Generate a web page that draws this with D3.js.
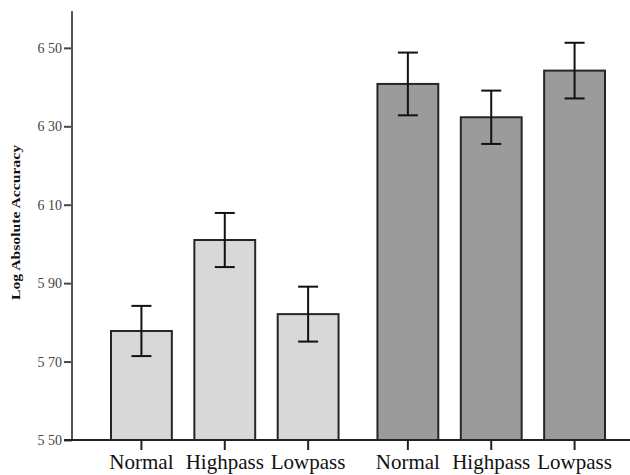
<!DOCTYPE html>
<html>
<head>
<meta charset="utf-8">
<script src="https://cdn.jsdelivr.net/npm/d3@7"></script>
<style>
html,body{margin:0;padding:0;background:#fff;}
svg{display:block;}
</style>
</head>
<body>
<svg id="chart" width="630" height="475"></svg>
<script>
// Data
const groups = ["Group A", "Group B"];
const conditions = ["Normal", "Highpass", "Lowpass"];
const valuesA = [5.778, 6.010, 5.821];
const valuesB = [6.408, 6.323, 6.442];
const errorsA = [0.064, 0.069, 0.070];
const errorsB = [0.080, 0.068, 0.071];
const yTickValues = [5.50, 5.70, 5.90, 6.10, 6.30, 6.50];
const yTickLabels = ["5 50", "5 70", "5 90", "6 10", "6 30", "6 50"];
const yLabel = "Log Absolute Accuracy";

const data = [];
groups.forEach((g, gi) => {
  const vals = gi === 0 ? valuesA : valuesB;
  const errs = gi === 0 ? errorsA : errorsB;
  conditions.forEach((c, ci) => data.push({group: g, cond: c, value: vals[ci], err: errs[ci]}));
});

const svg = d3.select("#chart");
const axisX = 72, baseY = 440, topY = 11;

const y = d3.scaleLinear().domain([5.5, 6.594]).range([baseY, topY]);
const x0 = d3.scaleBand().domain(groups).range([111, 605]).paddingInner(0.146).paddingOuter(0);
const x1 = d3.scaleBand().domain(conditions).range([0, x0.bandwidth()]).paddingInner(0.27).paddingOuter(0);
const fills = {"Group A": "#d8d8d8", "Group B": "#9b9b9b"};

// Bars
const bars = svg.append("g");
bars.selectAll("rect").data(data).join("rect")
  .attr("x", d => x0(d.group) + x1(d.cond))
  .attr("y", d => y(d.value))
  .attr("width", x1.bandwidth())
  .attr("height", d => baseY - y(d.value))
  .attr("fill", d => fills[d.group])
  .attr("stroke", "#262626")
  .attr("stroke-width", 2);

// Error bars
const eb = svg.append("g").attr("stroke", "#111").attr("stroke-width", 2);
const cx = d => x0(d.group) + x1(d.cond) + x1.bandwidth() / 2;
const capW = 10;
eb.selectAll("line.v").data(data).join("line").attr("class", "v")
  .attr("x1", cx).attr("x2", cx)
  .attr("y1", d => y(d.value + d.err)).attr("y2", d => y(d.value - d.err));
eb.selectAll("line.t").data(data).join("line").attr("class", "t")
  .attr("x1", d => cx(d) - capW).attr("x2", d => cx(d) + capW)
  .attr("y1", d => y(d.value + d.err)).attr("y2", d => y(d.value + d.err));
eb.selectAll("line.b").data(data).join("line").attr("class", "b")
  .attr("x1", d => cx(d) - capW).attr("x2", d => cx(d) + capW)
  .attr("y1", d => y(d.value - d.err)).attr("y2", d => y(d.value - d.err));

// Y axis
const yAxis = d3.axisLeft(y).tickValues(yTickValues)
  .tickFormat((d, i) => yTickLabels[i]).tickSize(8).tickSizeOuter(0).tickPadding(2);
const gy = svg.append("g").attr("transform", `translate(${axisX},0)`).call(yAxis);
gy.select(".domain").remove();
gy.selectAll(".tick line").attr("stroke", "#444").attr("stroke-width", 2);
gy.selectAll(".tick text").attr("font-family", "'Liberation Serif', 'Times New Roman', serif")
  .attr("font-size", 14).attr("fill", "#444");
svg.append("line").attr("x1", axisX).attr("x2", axisX).attr("y1", topY).attr("y2", baseY)
  .attr("stroke", "#555").attr("stroke-width", 2);

// X axis
const xPos = d => x0(d.group) + x1(d.cond) + x1.bandwidth() / 2;
svg.append("line").attr("x1", axisX - 8).attr("x2", 630).attr("y1", baseY).attr("y2", baseY)
  .attr("stroke", "#222").attr("stroke-width", 2);
const gx = svg.append("g");
gx.selectAll("line").data(data).join("line")
  .attr("x1", xPos).attr("x2", xPos).attr("y1", baseY).attr("y2", baseY + 10)
  .attr("stroke", "#222").attr("stroke-width", 2);
gx.selectAll("text").data(data).join("text")
  .attr("x", xPos).attr("y", 469)
  .attr("text-anchor", "middle")
  .attr("font-family", "'Liberation Serif', 'Times New Roman', serif")
  .attr("font-size", 21).attr("fill", "#111")
  .text(d => d.cond);

// Y label
svg.append("text")
  .attr("transform", `translate(20,${(145 + 300) / 2}) rotate(-90)`)
  .attr("text-anchor", "middle")
  .attr("font-family", "'Liberation Serif', 'Times New Roman', serif")
  .attr("font-weight", "bold").attr("font-size", 13).attr("fill", "#111")
  .attr("textLength", 155).attr("lengthAdjust", "spacingAndGlyphs")
  .text(yLabel);
</script>
</body>
</html>
